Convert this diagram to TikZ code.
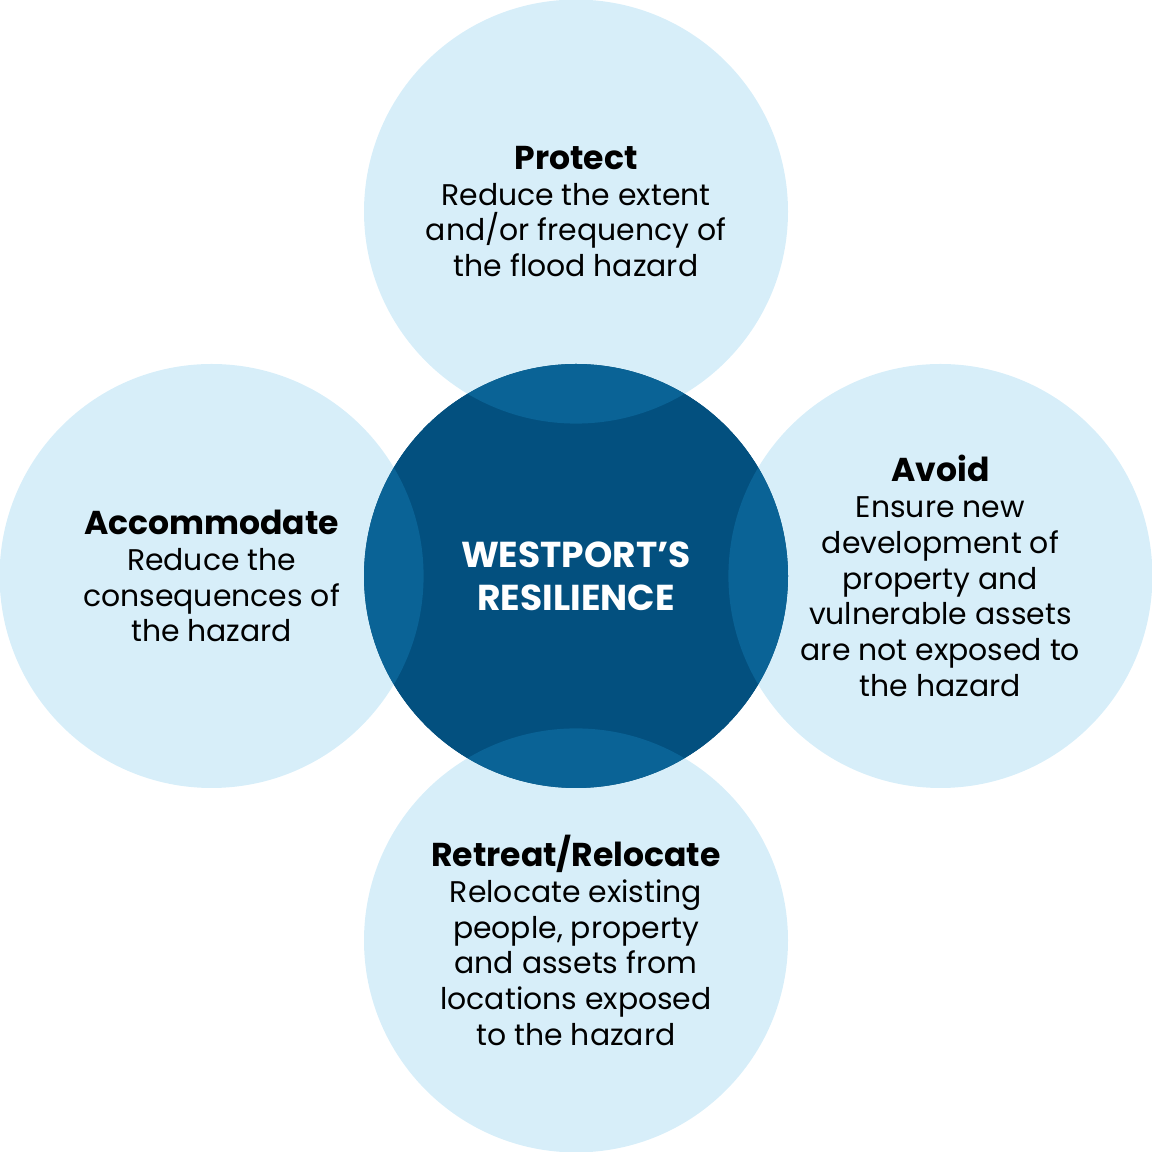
\documentclass[tikz,border=0pt]{standalone}
\usepackage{fontspec}
\setmainfont{Poppins}
\usepackage{xcolor}
\usetikzlibrary{positioning}
\definecolor{hubblue}{HTML}{03507F}
\definecolor{lensblue}{HTML}{0A6396}
\definecolor{petalblue}{HTML}{D7EEF9}
\newcommand{\ptitle}[1]{{\fontsize{9.4}{10.2}\selectfont\bfseries #1}}

\begin{document}
\begin{tikzpicture}[
  node distance=-0.61cm,
  petal/.style={circle,fill=petalblue,minimum size=4.24cm,inner sep=0pt,
                align=center,text=black,
                font=\fontsize{8.5}{10.2}\selectfont},
  hub/.style  ={circle,fill=hubblue,minimum size=4.24cm,inner sep=0pt,
                align=center,text=white,
                font=\fontsize{10.25}{12.2}\selectfont\bfseries},
  lens/.style ={fill=lensblue}
]
\useasboundingbox (0,0) rectangle (11.52,11.52);
\coordinate (mid) at (5.76,5.76);
\node[hub] (res) at (mid) {};
\node[petal,above=of res] (protect)
  {\ptitle{Protect}\\Reduce the extent\\and/or frequency of\\the flood hazard};
\node[petal,left=of res] (accom)
  {\ptitle{Accommodate}\\Reduce the\\consequences of\\the hazard};
\node[petal,right=of res] (avoid)
  {\ptitle{Avoid}\\Ensure new\\development of\\property and\\vulnerable assets\\are not exposed to\\the hazard};
\node[petal,below=of res] (retreat)
  {\ptitle{Retreat/Relocate}\\Relocate existing\\people, property\\and assets from\\locations exposed\\to the hazard};
% hub on top, overlaps in a lighter blue
\node[hub] (core) at (mid) {};
\begin{scope}
  \clip (core.center) circle (2.12);
  \foreach \p in {protect,accom,avoid,retreat}
    \fill[lens] (\p.center) circle (2.12);
\end{scope}
\node[hub,fill=none] (label) at (mid) {WESTPORT’S\\RESILIENCE};
\end{tikzpicture}
\end{document}
